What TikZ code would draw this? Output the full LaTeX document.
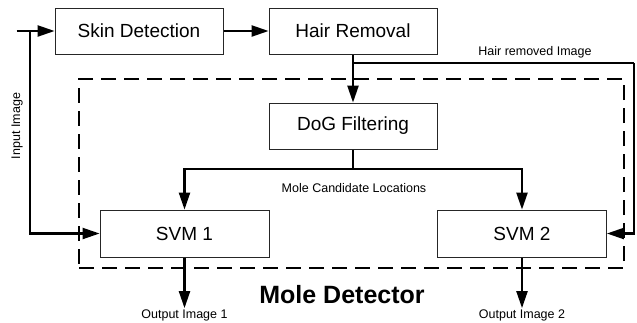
\documentclass[tikz,border=0pt]{standalone}
\usepackage{fontspec}
\setmainfont{Liberation Sans}
\usepackage{tikz}
\usetikzlibrary{arrows.meta}
\pgfdeclarelayer{lineas_layer}
\pgfdeclarelayer{esquema}
\pgfsetlayers{lineas_layer,esquema,main}
\tikzstyle{none}=[inner sep=0pt]
\tikzstyle{bloque}=[draw=black!85,line width=0.8pt,fill=white,font=\fontsize{19}{19}\selectfont,minimum width=168pt,minimum height=46pt,inner sep=0pt]
\tikzstyle{rotulo}=[inner sep=1pt,font=\fontsize{12.5}{12.5}\selectfont]
\tikzstyle{titulo}=[inner sep=0pt,font=\fontsize{25}{25}\selectfont\bfseries]
\tikzstyle{marco}=[draw=black,line width=2pt,dash pattern=on 15pt off 8pt,minimum width=545pt,minimum height=189pt,inner sep=0pt]
\tikzstyle{line} = [draw,line width=2.2pt,-{Triangle[length=17pt,width=11pt]}]
\tikzstyle{plain} = [draw,line width=2.2pt]

\begin{document}
\begin{tikzpicture}[x=1pt,y=-1pt]
		\useasboundingbox (0,0) rectangle (637,322);
		\begin{pgfonlayer}{esquema}
			\node [style=bloque] (skin) at (139,31) {Skin Detection};
			\node [style=bloque] (hair) at (353,31) {Hair Removal};
			\node [style=bloque] (dog) at (353,126) {DoG Filtering};
			\node [style=bloque,minimum width=169pt,minimum height=47pt] (svm1) at (184.5,233.5) {SVM 1};
			\node [style=bloque,minimum width=169pt,minimum height=47pt] (svm2) at (522,233.5) {SVM 2};
			\node [style=rotulo,rotate=90] (input) at (17,126) {Input Image};
			\node [style=rotulo] (hairimg) at (535,52) {Hair removed Image};
			\node [style=rotulo] (candidatos) at (354,188) {Mole Candidate Locations};
			\node [style=rotulo] (out1) at (184.5,315) {Output Image 1};
			\node [style=rotulo] (out2) at (522,315) {Output Image 2};
			\node [style=titulo] (detector_label) at (342,295) {Mole Detector};
		\end{pgfonlayer}
		\begin{pgfonlayer}{lineas_layer}
			\node [style=marco] (detector) at (351.5,173.5) {};
			\node [style=none] (entrada) at (16,31) {};
			\node [style=none] (bajada) at (30,31) {};
			\node [style=none] (rama) at (353,63) {};
			\node [style=none] (derecha) at (634,63) {};
			\node [style=none] (cruce) at (353,169) {};
			\path [style=line] (entrada) -- (skin);
			\path [style=line] (bajada) |- (svm1);
			\path [style=line] (skin) -- (hair);
			\path [style=line] (hair) -- (dog);
			\path [style=plain] (rama.center) -- (derecha.center);
			\path [style=line] (derecha.center) |- (svm2);
			\path [style=plain] (dog) -- (cruce.center);
			\path [style=line] (cruce.center) -| (svm1);
			\path [style=line] (cruce.center) -| (svm2);
			\path [style=line] (svm1) -- (out1);
			\path [style=line] (svm2) -- (out2);
		\end{pgfonlayer}
\end{tikzpicture}
\end{document}
